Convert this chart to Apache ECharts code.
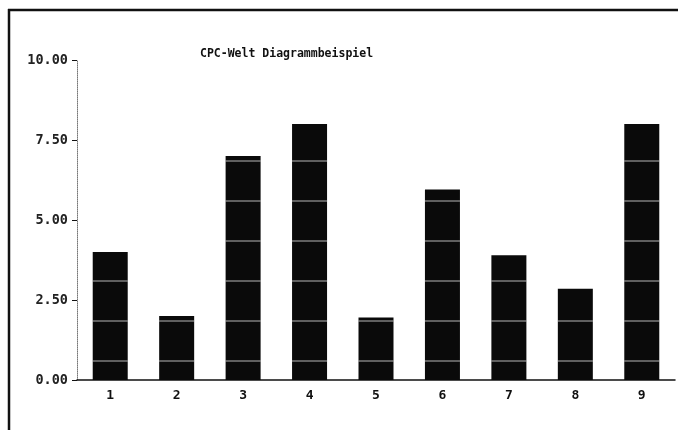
<!DOCTYPE html>
<html>
<head>
<meta charset="utf-8">
<script src="https://cdn.jsdelivr.net/npm/echarts@6/dist/echarts.min.js"></script>
<style>
html,body{margin:0;padding:0;background:#fff;}
#chart{width:678px;height:430px;}
</style>
</head>
<body>
<div id="chart"></div>
<script>
const titleText = 'CPC-Welt Diagrammbeispiel';
const categories = ['1','2','3','4','5','6','7','8','9'];
const values = [4, 2, 7, 8, 1.95, 5.95, 3.9, 2.85, 8];
const yTicks = [0, 2.5, 5, 7.5, 10];

const chart = echarts.init(document.getElementById('chart'), null, {renderer:'canvas'});
const monoFont = '"DejaVu Sans Mono", "Liberation Mono", monospace';
chart.setOption({
  backgroundColor: '#ffffff',
  animation: false,
  title: {
    text: titleText,
    left: 195,
    top: 43,
    textStyle: {fontFamily: monoFont, fontSize: 11.5, fontWeight: 'bold', color: '#111'}
  },
  grid: {left: 77, right: 3, top: 60, bottom: 50, containLabel: false},
  xAxis: {
    type: 'category',
    data: categories,
    axisLine: {lineStyle: {color: '#111', width: 1.5}},
    axisTick: {show: false},
    axisLabel: {fontFamily: monoFont, fontSize: 13, fontWeight: 'bold', color: '#111', margin: 9}
  },
  yAxis: {
    type: 'value',
    min: yTicks[0],
    max: yTicks[yTicks.length - 1],
    interval: yTicks[1] - yTicks[0],
    axisLine: {show: true, lineStyle: {color: '#777', width: 1, type: 'dotted'}},
    axisTick: {show: true, length: 5, lineStyle: {color: '#111', width: 1}},
    splitLine: {show: false},
    axisLabel: {
      fontFamily: monoFont, fontSize: 13.5, fontWeight: 'bold', color: '#222', margin: 9,
      formatter: v => v.toFixed(2)
    }
  },
  series: [{
    type: 'bar',
    data: values,
    barWidth: 35,
    itemStyle: {
      color: '#0a0a0a',
      decal: {
        symbol: 'rect',
        symbolSize: 1,
        color: 'rgba(255,255,255,0.35)',
        dashArrayX: [1, 0],
        dashArrayY: [1.5, 37.5],
        rotation: 0
      }
    }
  }],
  graphic: [
    {type: 'line', shape: {x1: 8, y1: 10, x2: 678, y2: 10}, style: {stroke: '#111', lineWidth: 2.5}},
    {type: 'line', shape: {x1: 9, y1: 9, x2: 9, y2: 430}, style: {stroke: '#111', lineWidth: 2.5}}
  ]
});
</script>
</body>
</html>
